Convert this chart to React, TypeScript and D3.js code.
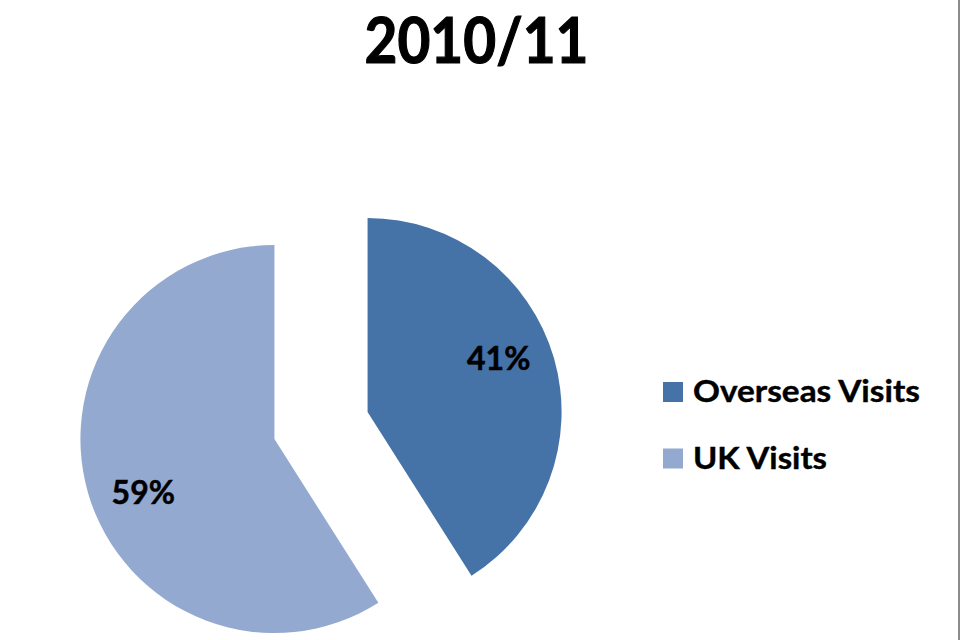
import React from "react";
import * as d3 from "d3";

const title = "2010/11";
const categories = ["Overseas Visits", "UK Visits"];
const values = [41, 59];
const colors = ["#4572A7", "#93A9CF"];

const W = 960;
const H = 640;
const cx = 321;
const cy = 425.5;
const R = 194;
const explode = 48.5;
const labelR = 0.73 * R;
const labelTilt = (-6 * Math.PI) / 180;

export default function App() {
  const pie = d3.pie<number>().sort(null).value((d) => d);
  const arcs = pie(values);
  const arc = d3.arc<d3.PieArcDatum<number>>().innerRadius(0).outerRadius(R);
  const total = d3.sum(values);

  return (
    <svg
      width={W}
      height={H}
      style={{ position: "fixed", left: 0, top: 0, background: "#fff" }}
      fontFamily="Lato, 'Noto Sans', sans-serif"
    >
      <rect x={0} y={0} width={W} height={H} fill="#ffffff" />
      <rect x={958} y={0} width={2} height={H} fill="#8c8c8c" />
      <text
        x={476.5}
        y={63}
        textAnchor="middle"
        fontSize={64}
        fontWeight="bold"
        fill="#000"
        stroke="#000"
        strokeWidth={1.2}
        textLength={224}
        lengthAdjust="spacingAndGlyphs"
      >
        {title}
      </text>
      {arcs.map((a, i) => {
        const mid = (a.startAngle + a.endAngle) / 2;
        const ox = cx + Math.sin(mid) * explode;
        const oy = cy - Math.cos(mid) * explode;
        const la = mid + labelTilt;
        const lx = ox + Math.sin(la) * labelR;
        const ly = oy - Math.cos(la) * labelR;
        const pct = Math.round((values[i] / total) * 100);
        return (
          <g key={categories[i]}>
            <path
              d={arc(a) || ""}
              transform={`translate(${ox},${oy})`}
              fill={colors[i]}
            />
            <text
              x={lx}
              y={ly + 11.5}
              textAnchor="middle"
              fontSize={32}
              fontWeight="bold"
              fill="#000"
              stroke="#000"
              strokeWidth={0.5}
            >
              {pct + "%"}
            </text>
          </g>
        );
      })}
      {categories.map((c, i) => (
        <g key={c} transform={`translate(663,${382 + i * 66.5})`}>
          <rect x={0} y={0} width={20} height={20} fill={colors[i]} />
          <text
            x={30}
            y={20}
            fontSize={31}
            fontWeight="bold"
            fill="#000"
            stroke="#000"
            strokeWidth={0.4}
            textLength={i === 0 ? 227 : 134}
            lengthAdjust="spacingAndGlyphs"
          >
            {c}
          </text>
        </g>
      ))}
    </svg>
  );
}
